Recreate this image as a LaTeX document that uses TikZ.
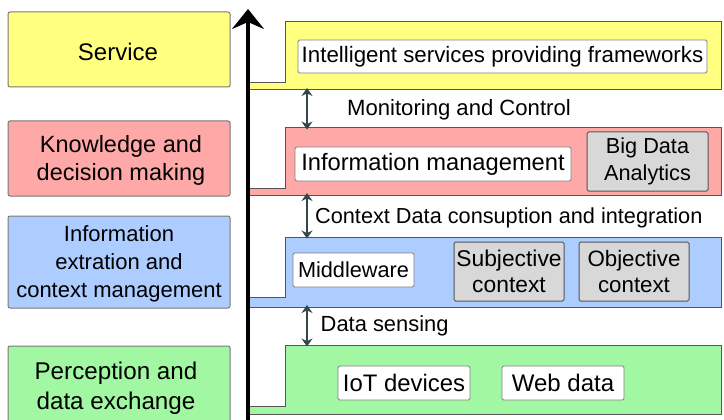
\documentclass[tikz,border=0pt]{standalone}
\usepackage{fontspec}
\setmainfont{Liberation Sans}
\usetikzlibrary{arrows.meta}
\definecolor{cyel}{HTML}{FFFF80}
\definecolor{cpink}{HTML}{FFA8A8}
\definecolor{cblue}{HTML}{ADCCFF}
\definecolor{cgreen}{HTML}{A2F8A2}
\definecolor{cgray}{HTML}{D8D8D8}
\definecolor{cline}{HTML}{555555}
\definecolor{carr}{HTML}{34474A}
\newcommand{\fs}[2]{\fontsize{#1}{#2}\selectfont}
\tikzset{
  txt/.style={text=black, inner sep=0pt, align=center},
  leftbox/.style={draw=cline!80, line width=1pt, rounded corners=2pt, minimum width=222pt, inner sep=0pt},
  layer/.style={draw=cline, line width=1pt},
  whitebox/.style={txt, fill=white, draw=gray, line width=0.9pt, rounded corners=1.5pt},
  graybox/.style={txt, fill=cgray, draw=cline, line width=1pt, rounded corners=1.5pt},
  dblarrow/.style={carr, line width=2pt, {Stealth[length=8pt,width=11pt]}-{Stealth[length=8pt,width=11pt]}},
  lbl/.style={txt, anchor=west, font=\fs{21.9}{26}}
}
\begin{document}
\begin{tikzpicture}[x=1pt,y=-1pt]
\clip (0,0) rectangle (724,420);
\fill[white] (0,0) rectangle (724,420);
% left boxes
\node[leftbox, fill=cyel, minimum height=75pt] (svc) at (119,49.5) {};
\node[leftbox, fill=cpink, minimum height=75pt] (kdm) at (119,158.5) {};
\node[leftbox, fill=cblue, minimum height=92pt] (iec) at (119,262) {};
\node[leftbox, fill=cgreen, minimum height=80pt] (pde) at (119,386) {};
\node[txt, font=\fs{24}{28}] (svct) at (118,51.5) {Service};
\node[txt, font=\fs{23.5}{28}] (kdmt) at (121,160) {Knowledge and\\decision making};
\node[txt, font=\fs{22}{28}] (iect) at (119,263.5) {Information\\extration and\\context management};
\node[txt, font=\fs{24.2}{30}] (pdet) at (116,388) {Perception and\\data exchange};
% right layers
\coordinate (l1t) at (307,90);
\coordinate (l2t) at (307,128);
\coordinate (l2b) at (307,195);
\coordinate (l3t) at (307,237);
\coordinate (l3b) at (307,307);
\coordinate (l4t) at (307,345);
\draw[layer, fill=cyel] (247,83) -- (285,83) -- (285,22) -- (721,22) -- (721,90) -- (247,90);
\draw[layer, fill=cpink] (247,188) -- (285,188) -- (285,128) -- (721,128) -- (721,195) -- (247,195);
\draw[layer, fill=cblue] (247,297) -- (285,297) -- (285,237) -- (721,237) -- (721,307) -- (247,307);
\draw[layer, fill=cgreen] (247,406) -- (285,406) -- (285,345) -- (721,345) -- (721,414) -- (247,414);
% inner boxes
\node[whitebox, font=\fs{22.3}{26}, minimum width=409pt, minimum height=33pt] (isf) at (502.5,56.5) {Intelligent services providing frameworks};
\node[whitebox, font=\fs{23.7}{26}, minimum width=276pt, minimum height=34pt] (im) at (433,164) {Information management};
\node[graybox, font=\fs{21.7}{26.5}, minimum width=121pt, minimum height=59pt] (bda) at (647.5,161.5) {Big Data\\Analytics};
\node[whitebox, font=\fs{21.7}{26}, minimum width=121pt, minimum height=34pt] (mw) at (353.5,270) {Middleware};
\node[graybox, font=\fs{22.8}{26.5}, minimum width=110pt, minimum height=59pt] (sc) at (509,271.5) {Subjective\\context};
\node[graybox, font=\fs{22.3}{26.5}, minimum width=110pt, minimum height=59pt] (oc) at (634,271.5) {Objective\\context};
\node[whitebox, font=\fs{23.9}{26}, minimum width=132pt, minimum height=34pt] (iot) at (404,383) {IoT devices};
\node[whitebox, font=\fs{24}{26}, minimum width=122pt, minimum height=34pt] (web) at (563,383) {Web data};
% double arrows and labels
\draw[dblarrow] ([yshift=2pt]l1t) -- ([yshift=-1.5pt]l2t);
\draw[dblarrow] ([yshift=2pt]l2b) -- ([yshift=-1.5pt]l3t);
\draw[dblarrow] ([yshift=2pt]l3b) -- ([yshift=-1.5pt]l4t);
\node[lbl, font=\fs{22.1}{26}] (mc) at (347,109.5) {Monitoring and Control};
\node[lbl, font=\fs{21.7}{26}] (cd) at (315,217.5) {Context Data consuption and integration};
\node[lbl] (ds) at (320.5,325.5) {Data sensing};
% main vertical arrow
\coordinate (abot) at (248,425);
\coordinate (atop) at (248,9);
\draw[black, line width=4pt, -{Stealth[length=20pt,width=32pt,inset=7pt]}] (abot) -- (atop);
\end{tikzpicture}
\end{document}
